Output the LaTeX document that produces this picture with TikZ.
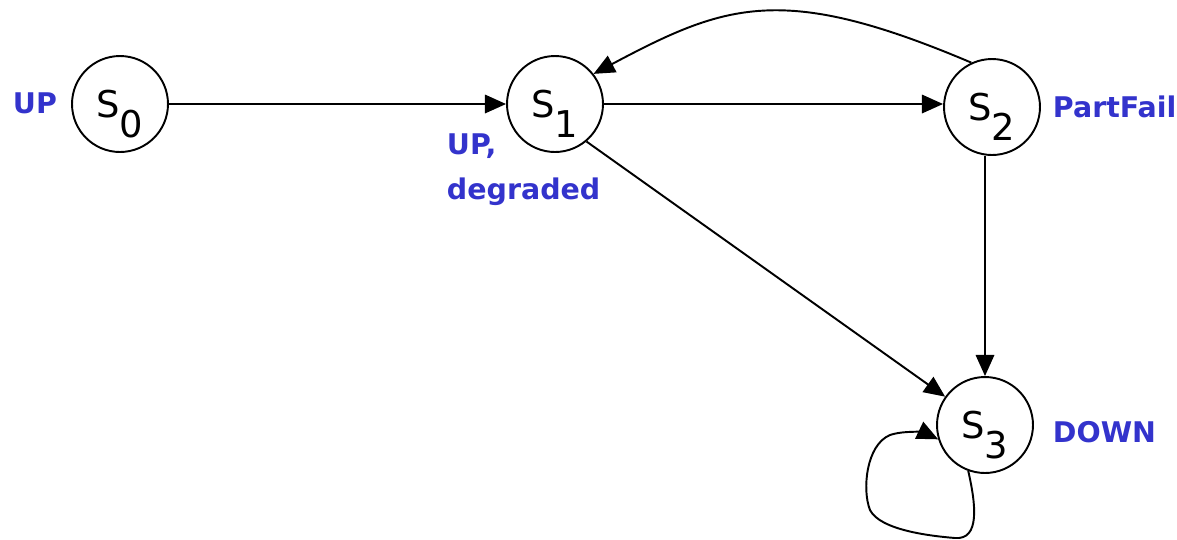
\documentclass[tikz,border=0pt]{standalone}
\usepackage{fontspec}
\setmainfont{DejaVu Sans}
\usetikzlibrary{arrows.meta}

\definecolor{stateblue}{RGB}{51,51,204}
% state name with a lowered index of the same size
\newcommand{\st}[1]{S\smash{\raisebox{-11.4pt}{#1}}}

\begin{document}
\begin{tikzpicture}[x=0.02cm,y=0.02cm,->,>={Triangle[length=12pt,width=10.5pt]},line width=1.1pt,
  main node/.style={circle,draw,minimum size=1.92cm,inner sep=0pt,font=\fontsize{21}{25}\selectfont},
  tag/.style={text=stateblue,inner sep=0pt,font=\fontsize{16.2}{25.5}\selectfont\bfseries}]

  \useasboundingbox (0,0) rectangle (1177,-539);

  \node[main node] (0) at (120,-104) {\st{0}};
  \node[main node] (1) at (555,-104) {\st{1}};
  \node[main node] (2) at (992,-107) {\st{2}};
  \node[main node] (3) at (985,-425) {\st{3}};

  \node[tag,anchor=base west] (up) at (12,-113) {UP};
  \node[tag,anchor=north west,align=left] (degr) at (446,-133) {UP,\\degraded};
  \node[tag,anchor=base west] (pf) at (1052,-117) {PartFail};
  \node[tag,anchor=base west] (down) at (1052,-442) {DOWN};

  \path
    (0) edge (1)
    (1.east) edge (1.east -| 2.west)
    (1.310) edge (3)
    (3.north |- 2.south) edge (3.north);

  % back edge over the top
  \draw (2.115) .. controls +(157:205) and +(28:150) .. (1.38);

  % self loop below S3
  \draw (3.250) .. controls (976,-505) and (980,-540) .. (955,-538)
    .. controls (930,-536) and (880,-530) .. (870,-510)
    .. controls (862,-490) and (866,-445) .. (890,-435)
    .. controls (905,-430) and (925,-433) .. (3.197);
\end{tikzpicture}
\end{document}
